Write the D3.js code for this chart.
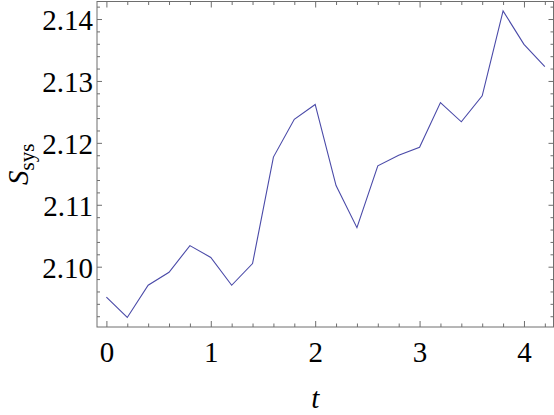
<!DOCTYPE html>
<html>
<head>
<meta charset="utf-8">
<script src="https://cdn.jsdelivr.net/npm/d3@7"></script>
<style>
  body { margin: 0; background: #fff; }
  svg text { font-family: "Liberation Serif", serif !important; }
</style>
</head>
<body>
<script>
// data
const tValues = [0, 0.2, 0.4, 0.6, 0.8, 1.0, 1.2, 1.4, 1.6, 1.8, 2.0, 2.2,
  2.4, 2.6, 2.8, 3.0, 3.2, 3.4, 3.6, 3.8, 4.0, 4.2];
const sValues = [2.0951, 2.0918, 2.0970, 2.0991, 2.1034, 2.1015, 2.0970, 2.1005,
  2.1177, 2.1238, 2.1262, 2.1131, 2.1063, 2.1163, 2.1180, 2.1193, 2.1265, 2.1234,
  2.1276, 2.1413, 2.1359, 2.1323];
const xMajor = [0, 1, 2, 3, 4];
const yMajor = [2.10, 2.11, 2.12, 2.13, 2.14];

const width = 554;
const height = 415;
const frame = { left: 97, right: 553.5, top: 1.5, bottom: 327 };

const svg = d3.select("body").append("svg")
  .attr("width", width)
  .attr("height", height)
  .attr("font-family", "Liberation Serif");

const x = d3.scaleLinear().domain([-0.09, 4.283]).range([frame.left, frame.right]);
const y = d3.scaleLinear().domain([2.09026, 2.14283]).range([frame.bottom, frame.top]);

// minor ticks every 0.2 on x, 0.002 on y
const xMinor = d3.range(0, 4.3, 0.2).map(v => +v.toFixed(1)).filter(v => !xMajor.includes(v));
const yMinor = d3.range(2.092, 2.1425, 0.002).map(v => +v.toFixed(3))
  .filter(v => !yMajor.some(m => Math.abs(m - v) < 1e-9));

const tickColor = "#6e6e6e";

// ! axes: ticks on all four sides, pointing inward
const bottomAxis = svg.append("g")
  .attr("transform", `translate(0,${frame.bottom})`)
  .call(d3.axisBottom(x).tickValues(xMajor).tickSize(-6).tickSizeOuter(0)
    .tickFormat(d3.format("d")));
bottomAxis.selectAll(".tick text").attr("y", 14).attr("dy", "0.71em");

svg.append("g")
  .attr("transform", `translate(0,${frame.bottom})`)
  .call(d3.axisBottom(x).tickValues(xMinor).tickSize(-3.5).tickSizeOuter(0).tickFormat(""));

svg.append("g")
  .attr("transform", `translate(0,${frame.top})`)
  .call(d3.axisTop(x).tickValues(xMajor).tickSize(-6).tickSizeOuter(0).tickFormat(""));
svg.append("g")
  .attr("transform", `translate(0,${frame.top})`)
  .call(d3.axisTop(x).tickValues(xMinor).tickSize(-3.5).tickSizeOuter(0).tickFormat(""));

const leftAxis = svg.append("g")
  .attr("transform", `translate(${frame.left},0)`)
  .call(d3.axisLeft(y).tickValues(yMajor).tickSize(-5).tickSizeOuter(0)
    .tickFormat(d3.format(".2f")));
leftAxis.selectAll(".tick text").attr("x", -4).attr("dy", "0.36em");

svg.append("g")
  .attr("transform", `translate(${frame.left},0)`)
  .call(d3.axisLeft(y).tickValues(yMinor).tickSize(-3).tickSizeOuter(0).tickFormat(""));

svg.append("g")
  .attr("transform", `translate(${frame.right},0)`)
  .call(d3.axisRight(y).tickValues(yMajor).tickSize(-5).tickSizeOuter(0).tickFormat(""));
svg.append("g")
  .attr("transform", `translate(${frame.right},0)`)
  .call(d3.axisRight(y).tickValues(yMinor).tickSize(-3).tickSizeOuter(0).tickFormat(""));

svg.selectAll(".domain").remove();
svg.selectAll("g").attr("font-family", "Liberation Serif");
svg.selectAll(".tick line").attr("stroke", tickColor);
svg.selectAll(".tick text")
  .attr("fill", "#000")
  .attr("font-size", 29)
  .attr("font-family", "Liberation Serif");

// ! frame
svg.append("rect")
  .attr("x", frame.left)
  .attr("y", frame.top)
  .attr("width", frame.right - frame.left)
  .attr("height", frame.bottom - frame.top)
  .attr("fill", "none")
  .attr("stroke", tickColor)
  .attr("stroke-width", 1);

// ! the line
const line = d3.line()
  .x((d, i) => x(tValues[i]))
  .y(d => y(d));

svg.append("path")
  .datum(sValues)
  .attr("d", line)
  .attr("fill", "none")
  .attr("stroke", "#4a4aa8")
  .attr("stroke-width", 1.1);

// ! axis labels
svg.append("text")
  .attr("x", x(2))
  .attr("y", 408)
  .attr("text-anchor", "middle")
  .attr("font-size", 29)
  .attr("font-style", "italic")
  .text("t");

const yLabel = svg.append("text")
  .attr("transform", `translate(28,${(frame.top + frame.bottom) / 2}) rotate(-90)`)
  .attr("text-anchor", "middle")
  .attr("font-size", 29);
yLabel.append("tspan").attr("font-style", "italic").text("S");
yLabel.append("tspan").attr("font-size", 21).attr("dy", 6).text("sys");
</script>
</body>
</html>
